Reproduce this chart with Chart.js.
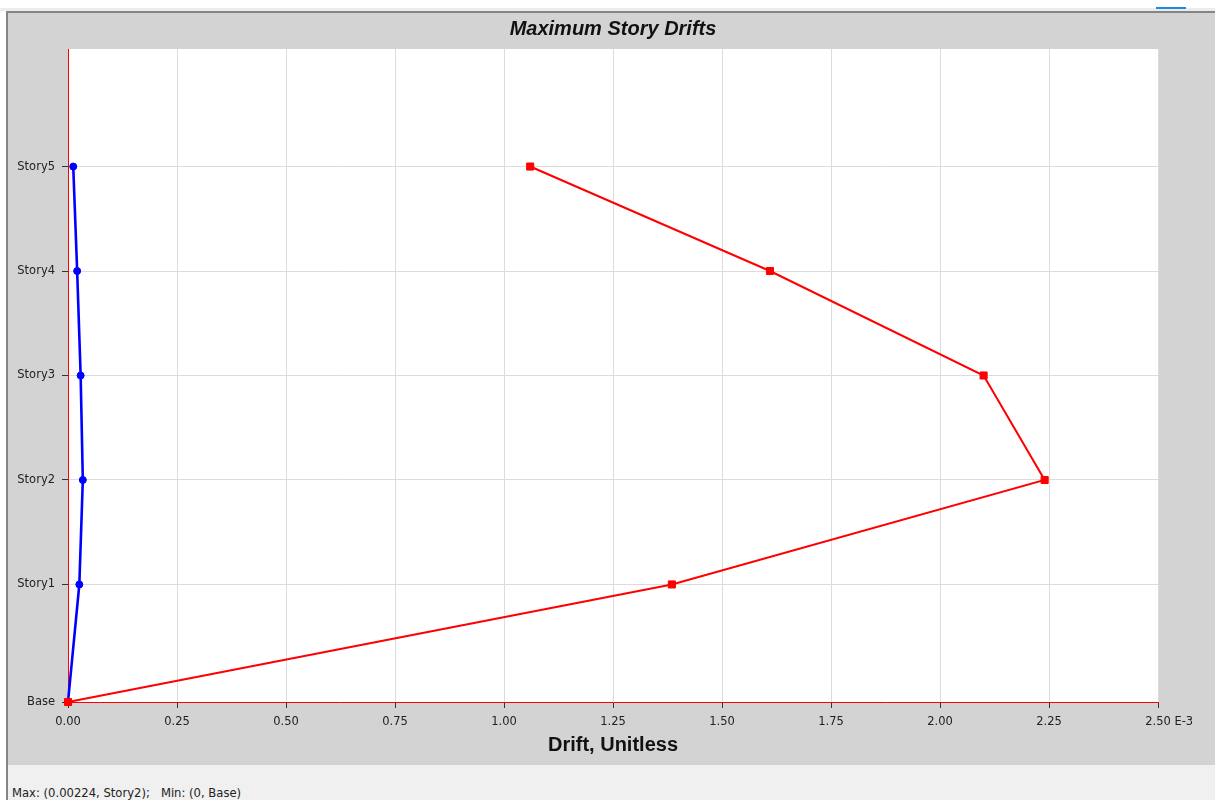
<!DOCTYPE html>
<html>
<head>
<meta charset="utf-8">
<script src="https://cdn.jsdelivr.net/npm/chart.js@4.4.0/dist/chart.umd.min.js"></script>
<style>
  html, body { margin: 0; padding: 0; background: #ffffff; width: 1215px; height: 800px; overflow: hidden; }
  #topband { position: absolute; left: 0; top: 8px; width: 1215px; height: 3px; background: #ececec; }
  #tab { position: absolute; left: 1156px; top: 7px; width: 30px; height: 2px; background: #1e88e5; }
  #frame { position: absolute; left: 6px; top: 11px; width: 1209px; height: 789px;
           border-top: 2px solid #858585; border-left: 2px solid #858585; box-sizing: border-box; background: #f0f0f0; }
  #panel { position: absolute; left: 0; top: 0; width: 100%; height: 752px; background: #d3d3d3; }
  #status { position: absolute; left: 12px; top: 785px; font: 11.6px "DejaVu Sans", sans-serif; color: #222;
            white-space: pre; line-height: 16px; }
  #chart { position: absolute; left: 0; top: 0; }
</style>
</head>
<body>
<div id="topband"></div>
<div id="tab"></div>
<div id="frame"><div id="panel"></div></div>
<div id="status"></div>
<canvas id="chart" width="1215" height="800"></canvas>
<script>
// Story levels and their elevations (m)
const stories = ['Base', 'Story1', 'Story2', 'Story3', 'Story4', 'Story5'];
const elevations = [0, 4.5, 8.5, 12.5, 16.5, 20.5];
// Maximum drift per story, in units of 1E-3
const driftX = [0, 1.385, 2.24, 2.10, 1.61, 1.06];
const driftY = [0, 0.026, 0.034, 0.029, 0.021, 0.012];
// Horizontal axis ticks (E-3)
const driftTicks = [0, 0.25, 0.5, 0.75, 1.0, 1.25, 1.5, 1.75, 2.0, 2.25, 2.5];
const chartTitle = 'Maximum Story Drifts';

const toPoints = (vals) => vals.map((v, i) => ({ x: v, y: elevations[i] }));

// Status line with max / min drift
const all = driftX.concat(driftY);
const maxV = Math.max(...all), minV = Math.min(...all);
const maxStory = stories[driftX.indexOf(maxV) >= 0 ? driftX.indexOf(maxV) : driftY.indexOf(maxV)];
const minStory = stories[driftX.indexOf(minV) >= 0 ? driftX.indexOf(minV) : driftY.indexOf(minV)];
document.getElementById('status').textContent =
  'Max: (' + Number((maxV / 1000).toPrecision(3)) + ', ' + maxStory + ');   Min: (' +
  Number((minV / 1000).toPrecision(3)) + ', ' + minStory + ')';

const tickFont = { family: '"DejaVu Sans", sans-serif', size: 11.5 };

// White plot area
const plotBackground = {
  id: 'plotBackground',
  beforeDraw(chart) {
    const { ctx, chartArea: a } = chart;
    ctx.save();
    ctx.fillStyle = '#ffffff';
    ctx.fillRect(a.left, a.top, a.right - a.left, a.bottom - a.top);
    ctx.restore();
  }
};

// Chart heading, centred on the panel
const panelTitle = {
  id: 'panelTitle',
  afterDraw(chart) {
    const ctx = chart.ctx;
    ctx.save();
    ctx.font = 'italic bold 20px "Liberation Sans", Arial, sans-serif';
    ctx.fillStyle = '#111';
    ctx.textAlign = 'center';
    ctx.textBaseline = 'alphabetic';
    ctx.fillText(chartTitle, 613, 35);
    ctx.restore();
  }
};

// Exponent suffix after the last drift tick label
const exponentLabel = {
  id: 'exponentLabel',
  afterDraw(chart) {
    const sx = chart.scales.x;
    const ctx = chart.ctx;
    const items = sx.getLabelItems ? sx.getLabelItems() : [];
    if (!items.length) return;
    const last = items[items.length - 1];
    const [lx, ly] = last.options.translation;
    ctx.save();
    ctx.font = '11.5px "DejaVu Sans", sans-serif';
    ctx.fillStyle = '#222';
    ctx.textBaseline = last.options.textBaseline || 'top';
    ctx.textAlign = 'left';
    const w = ctx.measureText(String(last.label)).width;
    ctx.fillText(' E-3', lx + w / 2, ly + (last.textOffset || 0));
    ctx.restore();
  }
};

new Chart(document.getElementById('chart'), {
  type: 'scatter',
  data: {
    datasets: [
      {
        label: 'Drift X',
        data: toPoints(driftX),
        showLine: true,
        borderColor: '#ff0000',
        backgroundColor: '#ff0000',
        borderWidth: 2,
        pointStyle: 'rect',
        pointRadius: 5,
        pointBorderWidth: 1,
        clip: false
      },
      {
        label: 'Drift Y',
        data: toPoints(driftY),
        showLine: true,
        borderColor: '#0000ff',
        backgroundColor: '#0000ff',
        borderWidth: 2.6,
        pointStyle: 'circle',
        pointRadius: 3.5,
        pointBorderWidth: 1,
        clip: false
      }
    ]
  },
  options: {
    responsive: false,
    animation: false,
    devicePixelRatio: 1,
    layout: { padding: { left: 8, top: 49, right: 57, bottom: 35 } },
    plugins: {
      legend: { display: false },
      tooltip: { enabled: false },
      title: { display: false }
    },
    scales: {
      x: {
        type: 'linear',
        min: 0,
        max: 2.5,
        afterBuildTicks: (scale) => { scale.ticks = driftTicks.map(v => ({ value: v })); },
        afterFit: (scale) => { scale.height = 63; },
        ticks: {
          color: '#222',
          font: tickFont,
          padding: 7,
          maxRotation: 0,
          autoSkip: false,
          callback: (v) => Number(v).toFixed(2)
        },
        grid: { color: '#dcdcdc', lineWidth: 1, tickColor: '#333', tickLength: 6 },
        border: { color: '#ff0000', width: 1 },
        title: {
          display: true,
          text: 'Drift, Unitless',
          color: '#111',
          font: { family: '"Liberation Sans", Arial, sans-serif', size: 20, weight: 'bold' },
          padding: { top: 0, bottom: 8 }
        }
      },
      y: {
        type: 'linear',
        min: 0,
        max: 25,
        afterBuildTicks: (scale) => { scale.ticks = elevations.map(v => ({ value: v })); },
        afterFit: (scale) => { scale.width = 60; },
        ticks: {
          color: '#222',
          font: tickFont,
          padding: 7,
          autoSkip: false,
          callback: (v) => stories[elevations.indexOf(v)]
        },
        grid: { color: '#dcdcdc', lineWidth: 1, tickColor: '#333', tickLength: 6 },
        border: { color: '#ff0000', width: 1 }
      }
    }
  },
  plugins: [plotBackground, panelTitle, exponentLabel]
});
</script>
</body>
</html>
